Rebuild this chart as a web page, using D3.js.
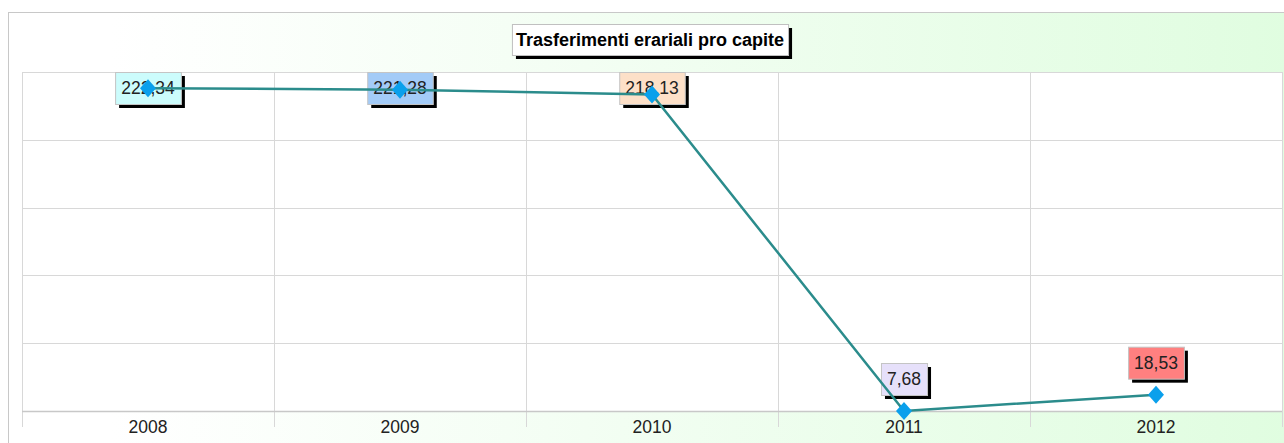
<!DOCTYPE html>
<html>
<head>
<meta charset="utf-8">
<script src="https://cdn.jsdelivr.net/npm/d3@7"></script>
<style>
  html, body { margin: 0; padding: 0; background: #fff; }
  svg { display: block; font-family: Arial, "Liberation Sans", sans-serif; }
</style>
</head>
<body>
<svg width="1284" height="443"></svg>
<script>
// data
var years = ["2008", "2009", "2010", "2011", "2012"];
var values = [222.34, 221.28, 218.13, 7.68, 18.53];
var valueLabels = ["222,34", "221,28", "218,13", "7,68", "18,53"];
var boxColors = ["#ccfcfc", "#a3cbf7", "#fde0c8", "#e6e0fa", "#ff8080"];
var yDomain = [7.68, 233.07];
var title = "Trasferimenti erariali pro capite";

var svg = d3.select("svg");
var plot = { left: 22, right: 1282, top: 72, bottom: 411 };

// background gradient
var defs = svg.append("defs");
var grad = defs.append("linearGradient").attr("id", "bg")
    .attr("x1", "0%").attr("x2", "100%").attr("y1", "0%").attr("y2", "0%");
grad.append("stop").attr("offset", "0%").attr("stop-color", "#ffffff");
grad.append("stop").attr("offset", "8%").attr("stop-color", "#ffffff");
grad.append("stop").attr("offset", "45%").attr("stop-color", "#f3fef3");
grad.append("stop").attr("offset", "100%").attr("stop-color", "#e0fde0");

svg.append("rect")
    .attr("x", 8.5).attr("y", 12.5)
    .attr("width", 1283).attr("height", 440)
    .attr("fill", "url(#bg)")
    .attr("stroke", "#c8c8c8");

// scales
var x = d3.scaleBand().domain(years).range([plot.left, plot.right]).padding(0);
var y = d3.scaleLinear().domain(yDomain).range([plot.bottom, plot.top]);
var cx = function(d, i) { return x(years[i]) + x.bandwidth() / 2; };

// plot area
svg.append("rect")
    .attr("x", plot.left + 0.5).attr("y", plot.top + 0.5)
    .attr("width", plot.right - plot.left).attr("height", plot.bottom - plot.top)
    .attr("fill", "#fff")
    .attr("stroke", "#d0d0d0");

// horizontal gridlines
var gridVals = d3.range(6).map(function(i) {
    return yDomain[0] + i * (yDomain[1] - yDomain[0]) / 5;
});
svg.append("g").selectAll("line")
    .data(gridVals)
    .enter().append("line")
    .attr("x1", plot.left).attr("x2", plot.right)
    .attr("y1", function(d) { return Math.round(y(d)) + 0.5; })
    .attr("y2", function(d) { return Math.round(y(d)) + 0.5; })
    .attr("stroke", "#d8d8d8");

// x axis: band boundaries as ticks/gridlines
var bounds = years.map(function(d) { return x(d); }).concat([plot.right]);
svg.append("g").selectAll("line")
    .data(bounds)
    .enter().append("line")
    .attr("x1", function(d) { return Math.round(d) + 0.5; })
    .attr("x2", function(d) { return Math.round(d) + 0.5; })
    .attr("y1", plot.top).attr("y2", plot.bottom + 16)
    .attr("stroke", "#d8d8d8");

svg.append("line")
    .attr("x1", plot.left).attr("x2", plot.right)
    .attr("y1", plot.bottom + 0.5).attr("y2", plot.bottom + 0.5)
    .attr("stroke", "#c8c8c8").attr("stroke-width", 1.5);

svg.append("g").selectAll("text")
    .data(years)
    .enter().append("text")
    .attr("x", function(d) { return x(d) + x.bandwidth() / 2; })
    .attr("y", 433)
    .attr("text-anchor", "middle")
    .attr("font-size", "17.5px")
    .attr("fill", "#222")
    .text(function(d) { return d; });

// title
var tg = svg.append("g");
var tt = tg.append("text")
    .attr("x", 650).attr("y", 46)
    .attr("text-anchor", "middle")
    .attr("font-size", "18px")
    .attr("font-weight", "bold")
    .attr("fill", "#000")
    .text(title);
var tb = tt.node().getBBox();
tg.insert("rect", "text")
    .attr("x", tb.x - 4 + 4).attr("y", 24 + 4)
    .attr("width", tb.width + 8).attr("height", 31)
    .attr("fill", "#000");
tg.insert("rect", "text")
    .attr("x", tb.x - 4 + 0.5).attr("y", 24.5)
    .attr("width", tb.width + 8).attr("height", 31)
    .attr("fill", "#fff").attr("stroke", "#c0c0c0");

// value label boxes
var lg = svg.append("g");
values.forEach(function(v, i) {
    var px = cx(v, i), py = y(v);
    var g = lg.append("g");
    var t = g.append("text")
        .attr("text-anchor", "middle")
        .attr("font-size", "17.5px")
        .attr("fill", "#222")
        .text(valueLabels[i]);
    var w = t.node().getBBox().width + 12, h = 32;
    var by = Math.max(plot.top, py - 16 - h);
    var bx = px - w / 2;
    t.attr("x", px).attr("y", by + 22);
    g.insert("rect", "text")
        .attr("x", bx + 4).attr("y", by + 4)
        .attr("width", w).attr("height", h)
        .attr("fill", "#000");
    g.insert("rect", "text")
        .attr("x", bx + 0.5).attr("y", by + 0.5)
        .attr("width", w).attr("height", h)
        .attr("fill", boxColors[i]).attr("stroke", "#c4c4c4");
});

// line
var line = d3.line()
    .x(function(d, i) { return cx(d, i); })
    .y(function(d) { return y(d); });
svg.append("path")
    .datum(values)
    .attr("d", line)
    .attr("fill", "none")
    .attr("stroke", "#2b8c8c")
    .attr("stroke-width", 2.5);

// markers
svg.append("g").selectAll("path")
    .data(values)
    .enter().append("path")
    .attr("transform", function(d, i) { return "translate(" + cx(d, i) + "," + y(d) + ")"; })
    .attr("d", "M0,-9L8,0L0,9L-8,0Z")
    .attr("fill", "#0aa0ec");
</script>
</body>
</html>
